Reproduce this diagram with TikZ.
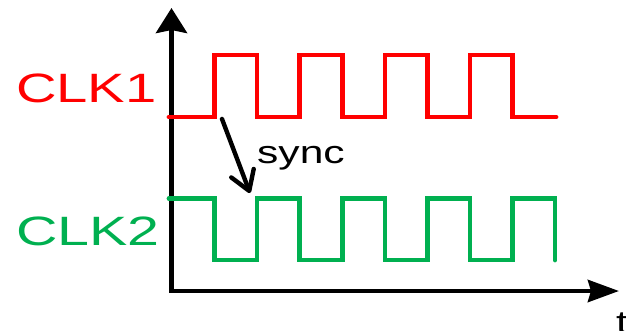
\documentclass[tikz,border=0pt]{standalone}
\usepackage{fontspec}
\setmainfont{Liberation Sans}
\usetikzlibrary{arrows.meta}
\definecolor{clkred}{HTML}{FF0000}
\definecolor{clkgreen}{HTML}{00B050}
\begin{document}
\begin{tikzpicture}[x=1pt,y=-1pt,
  wave/.style={line width=4.8pt,line join=miter,line cap=round},
  axis/.style={line width=4.8pt,line join=miter},
  lbl/.style={inner sep=0pt,anchor=base west,font=\fontsize{41}{41}\selectfont}]
\useasboundingbox (0,0) rectangle (626,330);
% axes
\coordinate (ytop) at (171.5,8);
\coordinate (origin) at (171.5,291);
\coordinate (xend) at (619,291);
\draw[axis,{Stealth[length=25pt,width=31pt,inset=3pt]}-{Stealth[length=31pt,width=22pt,inset=3pt]}] (ytop) -- (origin) -- (xend);
% red clock
\draw[wave,clkred] (169,117) -- (214.5,117) -- (214.5,55) -- (257,55) -- (257,117)
  -- (299.5,117) -- (299.5,55) -- (342.5,55) -- (342.5,117)
  -- (385,117) -- (385,55) -- (427.5,55) -- (427.5,117)
  -- (470,117) -- (470,55) -- (512.5,55) -- (512.5,117) -- (556,117);
% green clock
\draw[wave,clkgreen] (169,198.5) -- (214.5,198.5) -- (214.5,260) -- (257,260) -- (257,198.5)
  -- (299.5,198.5) -- (299.5,260) -- (342.5,260) -- (342.5,198.5)
  -- (385,198.5) -- (385,260) -- (427.5,260) -- (427.5,198.5)
  -- (470,198.5) -- (470,260) -- (512.5,260) -- (512.5,198.5)
  -- (555,198.5) -- (555,260);
% labels
\node[lbl,text=clkred] (clk1) at (16,102) {\scalebox{1.37}[1]{CLK1}};
\node[lbl,text=clkgreen] (clk2) at (16,245) {\scalebox{1.40}[1]{CLK2}};
\node[lbl,font=\fontsize{32}{32}\selectfont] (sync) at (257,163) {\scalebox{1.33}[1]{sync}};
\node[lbl,font=\fontsize{32}{32}\selectfont] (t) at (616,333) {\scalebox{1.33}[1]{t}};
% sync arrow
\coordinate (sa) at (222,119);
\coordinate (sb) at (250,193);
\draw[line width=4.4pt,line cap=round,-{Straight Barb[length=19pt,width=24pt,round]}] (sa) -- (sb);
\end{tikzpicture}
\end{document}
